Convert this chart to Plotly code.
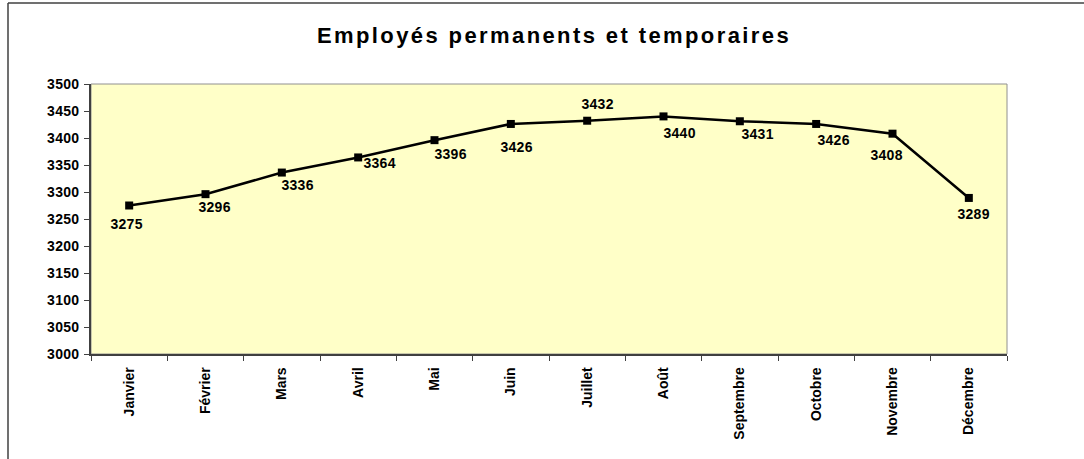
import plotly.graph_objects as go

months = ["Janvier", "Février", "Mars", "Avril", "Mai", "Juin", "Juillet",
          "Août", "Septembre", "Octobre", "Novembre", "Décembre"]
employees = [3275, 3296, 3336, 3364, 3396, 3426, 3432, 3440, 3431, 3426, 3408, 3289]
y_ticks = list(range(3000, 3501, 50))

# label offsets (pixels) as placed in the original chart
label_dx = [-3, 9, 16, 21, 16, 6, 10, 16, 18, 17, -6, 5]
label_dy = [-18, -13, -12, -6, -14, -23, 17, -17, -13, -16, -21, -16]

FONT = "Liberation Sans, Arial, sans-serif"

fig = go.Figure()
fig.add_trace(go.Scatter(
    x=months, y=employees, mode="lines+markers",
    line=dict(color="black", width=2.5),
    marker=dict(symbol="square", size=8, color="black"),
    hoverinfo="x+y", showlegend=False,
))

for m, v, dx, dy in zip(months, employees, label_dx, label_dy):
    fig.add_annotation(x=m, y=v, text=f"<b>{v}</b>", showarrow=False,
                       xshift=dx, yshift=dy,
                       font=dict(family=FONT, size=14, color="black"))

L, R, T, B = 91, 77, 84, 105
W, H = 1084, 459
pw, ph = W - L - R, H - T - B

def px(x):
    return (x - L) / pw

def py(y):
    return (H - B - y) / ph

# outer chart border (left and top)
fig.add_shape(type="line", xref="paper", yref="paper",
              x0=px(8), y0=py(462), x1=px(8), y1=py(3),
              line=dict(color="#404040", width=1.5))
fig.add_shape(type="line", xref="paper", yref="paper",
              x0=px(8), y0=py(3), x1=px(1090), y1=py(3),
              line=dict(color="#404040", width=1.5))
# plot area border
fig.add_shape(type="rect", xref="paper", yref="paper",
              x0=0, y0=0, x1=1, y1=1,
              line=dict(color="#909090", width=1), layer="below")

fig.update_layout(
    width=W, height=H,
    margin=dict(l=L, r=R, t=T, b=B, pad=0),
    paper_bgcolor="white",
    plot_bgcolor="#FFFFC8",
    title=dict(text="<b>Employés permanents et temporaires</b>",
               x=554 / W, xanchor="center", y=1 - 35 / H, yanchor="middle",
               font=dict(family=FONT, size=22, color="black")),
    font=dict(family=FONT, color="black"),
)
fig.update_xaxes(
    type="category", range=[-0.5, len(months) - 0.5],
    tickangle=-90, tickson="boundaries",
    ticks="outside", ticklen=5, tickcolor="#404040",
    ticklabelstandoff=6,
    showline=True, linecolor="#404040", linewidth=1.5,
    showgrid=False, zeroline=False,
    tickfont=dict(family=FONT, size=14, color="black"),
    tickprefix="<b>", ticksuffix="</b>",
)
fig.update_yaxes(
    range=[3000, 3500], tickvals=y_ticks,
    ticktext=[f"<b>{t}</b>" for t in y_ticks],
    ticks="outside", ticklen=5, tickcolor="#404040",
    ticklabelstandoff=2,
    showline=True, linecolor="#404040", linewidth=1.5,
    showgrid=False, zeroline=False,
    tickfont=dict(family=FONT, size=14, color="black"),
)

post = """
document.body.style.margin = '0';
document.querySelectorAll('.ytick text, .annotation-text').forEach(function(e){ e.style.letterSpacing = '0.3px'; });
document.querySelectorAll('.gtitle').forEach(function(e){ e.style.letterSpacing = '2.4px'; });
"""

fig.write_html("out.html", post_script=post, config={"displayModeBar": False})
